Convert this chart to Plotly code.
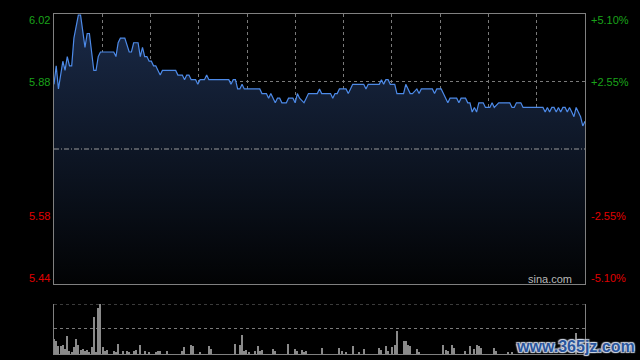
import plotly.graph_objects as go

# ---------------- data ----------------
prev_close = 5.73
price_min = [0, 1, 2, 4, 5, 6, 7, 8, 9, 11, 12, 13, 14, 15, 16, 17, 18, 19, 20, 21,
             27, 28, 29, 30, 32, 34, 35, 36, 38, 39, 40, 41, 42, 43, 44, 45, 46, 47, 48, 49,
             55, 56, 58, 59, 60, 61, 62, 64, 65, 66,
             68, 69, 70, 79, 80, 81, 82, 83, 84, 85, 86, 93, 94, 96, 97, 98, 100, 101, 102, 103,
             105, 106, 108, 109, 110, 111, 113, 114, 115, 119, 120, 121, 125, 126, 127, 128, 129,
             132, 133, 134, 135, 140, 141, 142, 147, 148, 149, 150, 151, 152, 154, 155, 156,
             158, 159, 160, 161, 162, 164, 165, 166, 171, 172, 173, 175, 176, 178, 179, 182, 183,
             184, 186, 187, 188, 189, 190, 191, 192, 194, 195, 197, 198, 199, 201, 206, 207, 208,
             209, 211, 212, 221, 222, 223, 224, 225, 226, 227, 228, 229, 230, 231, 232, 233, 234,
             235, 236, 237, 238, 239, 240]
price_val = [5.87, 5.91, 5.86, 5.92, 5.90, 5.93, 5.91, 5.91, 5.97, 6.02, 6.02, 5.98, 5.95, 5.98, 5.98, 5.94, 5.90, 5.90, 5.93, 5.94,
             5.94, 5.93, 5.96, 5.97, 5.97, 5.94, 5.94, 5.96, 5.96, 5.93, 5.95, 5.93, 5.93, 5.92, 5.92, 5.91, 5.91, 5.90, 5.89, 5.90,
             5.90, 5.89, 5.89, 5.88, 5.89, 5.89, 5.88, 5.88, 5.87, 5.88,
             5.88, 5.89, 5.88, 5.88, 5.87, 5.88, 5.88, 5.86, 5.86, 5.87, 5.86, 5.86, 5.85, 5.85, 5.84, 5.85, 5.83, 5.84, 5.84, 5.83,
             5.83, 5.84, 5.84, 5.83, 5.85, 5.84, 5.83, 5.84, 5.85, 5.85, 5.86, 5.85, 5.85, 5.84, 5.85, 5.85, 5.86,
             5.86, 5.85, 5.86, 5.87, 5.87, 5.86, 5.87, 5.87, 5.88, 5.87, 5.88, 5.88, 5.87, 5.87, 5.85, 5.85,
             5.85, 5.87, 5.86, 5.85, 5.85, 5.86, 5.85, 5.86, 5.86, 5.85, 5.86, 5.86, 5.85, 5.83, 5.84, 5.84, 5.83,
             5.84, 5.84, 5.83, 5.83, 5.81, 5.82, 5.81, 5.83, 5.83, 5.82, 5.82, 5.83, 5.82, 5.83, 5.83, 5.82, 5.82,
             5.83, 5.83, 5.82, 5.82, 5.81, 5.82, 5.81, 5.82, 5.82, 5.81, 5.82, 5.81, 5.82, 5.82, 5.81, 5.82, 5.81,
             5.80, 5.82, 5.81, 5.80, 5.78, 5.79]

vol_min = [0, 1, 2, 3, 4, 5, 6, 7, 8, 9, 10, 11, 12, 13, 14, 15, 16, 17, 18, 19, 20, 21, 22, 23, 24,
           27, 28, 29, 31, 33, 34, 36, 37, 39, 41, 43, 46, 47, 48, 51, 58, 59, 62, 63, 66, 70, 71,
           82, 84, 85, 86, 87, 88, 91, 92, 93, 94, 99, 100, 106, 109, 110, 112, 113, 114,
           121, 129, 130, 132, 135, 138, 140, 147, 148, 150, 151, 153, 154, 155, 158, 159, 160, 161,
           164, 165, 176, 177, 178, 180, 181, 186, 188, 190, 191, 192, 193, 199, 200, 205, 207, 236]
vol_val = [46, 40, 23, 23, 28, 16, 53, 8, 6, 20, 46, 28, 13, 15, 10, 13, 4, 20, 111, 5, 139, 150, 20, 8, 13,
           10, 5, 31, 10, 10, 5, 8, 13, 28, 8, 5, 5, 8, 10, 8, 10, 20, 28, 23, 5, 25, 16,
           31, 28, 58, 10, 13, 5, 8, 23, 8, 13, 16, 10, 31, 16, 10, 13, 5, 8,
           18, 18, 10, 5, 23, 5, 16, 18, 13, 23, 8, 20, 28, 68, 38, 38, 26, 23,
           16, 5, 28, 13, 8, 28, 18, 10, 25, 16, 28, 25, 18, 18, 8, 5, 5, 63]

y_ticks = [5.584, 5.876]
left_labels = ["6.02", "5.88", "5.58", "5.44"]
right_labels = ["+5.10%", "+2.55%", "-2.55%", "-5.10%"]
label_vals = [6.0222, 5.876, 5.584, 5.4378]
label_cols = ["#1aa31a", "#1aa31a", "#e00000", "#e00000"]
label_shift = [-6, 0, 0, 6]

y_lo, y_hi = 5.4378, 6.0222
n_min = 240
x_grid = [k * n_min / 11 for k in range(1, 11)]

# ---------------- figure ----------------
fig = go.Figure()
fig.add_trace(go.Scatter(
    x=price_min, y=price_val, mode="lines", xaxis="x", yaxis="y",
    line=dict(color="#4d8ae8", width=1.2),
    fill="tozeroy",
    fillgradient=dict(type="vertical", start=y_lo, stop=y_hi,
                      colorscale=[[0, "#020304"], [1, "#1a2a48"]]),
    hoverinfo="skip", showlegend=False))
fig.add_trace(go.Bar(
    x=vol_min, y=vol_val, xaxis="x2", yaxis="y2", width=0.5,
    marker=dict(color="#8a8a8a", line=dict(width=0)),
    hoverinfo="skip", showlegend=False))

grid_col = "#7a7a7a"
fig.update_layout(
    width=640, height=360,
    margin=dict(l=54, r=55, t=14, b=6),
    paper_bgcolor="#000", plot_bgcolor="#000",
    bargap=0,
    xaxis=dict(domain=[0, 1], range=[0, n_min], anchor="y",
               tickvals=x_grid, showticklabels=False, ticks="",
               showgrid=True, gridcolor=grid_col, griddash="dot", gridwidth=1,
               showline=True, mirror=True, linecolor="#808080", linewidth=1, zeroline=False),
    yaxis=dict(domain=[0.20588, 1], range=[y_lo, y_hi], anchor="x",
               tickvals=y_ticks, showticklabels=False, ticks="",
               showgrid=True, gridcolor=grid_col, griddash="dot", gridwidth=1,
               showline=True, mirror=True, linecolor="#808080", linewidth=1, zeroline=False),
    xaxis2=dict(domain=[0, 1], range=[0, n_min], anchor="y2",
                showticklabels=False, ticks="", showgrid=False,
                showline=True, linecolor="#808080", linewidth=1, zeroline=False),
    yaxis2=dict(domain=[0, 0.14706], range=[0, 150], anchor="x2",
                tickvals=[75], showticklabels=False, ticks="",
                showgrid=True, gridcolor=grid_col, griddash="dot", gridwidth=1,
                showline=True, mirror=True, linecolor="#808080", linewidth=1, zeroline=False),
    font=dict(family="Liberation Sans, Arial, sans-serif", size=11),
)

# prev-close line and volume top dotted line
fig.add_shape(type="line", xref="x domain", yref="y", x0=0, x1=1, y0=prev_close, y1=prev_close,
              line=dict(color="#9a9a9a", width=1, dash="5px,2px,1px,2px"))
fig.add_shape(type="line", xref="x2 domain", yref="y2", x0=0, x1=1, y0=150, y1=150,
              line=dict(color=grid_col, width=1, dash="dot"))

for txt_l, txt_r, v, c, s in zip(left_labels, right_labels, label_vals, label_cols, label_shift):
    fig.add_annotation(text=txt_l, xref="paper", yref="y", x=0, y=v, xanchor="right", yanchor="middle",
                       xshift=-2, yshift=s, showarrow=False, font=dict(color=c, size=11))
    fig.add_annotation(text=txt_r, xref="paper", yref="y", x=1, y=v, xanchor="left", yanchor="middle",
                       xshift=4, yshift=s, showarrow=False, font=dict(color=c, size=11))

fig.add_annotation(text="sina.com", xref="paper", yref="y", x=1, y=y_lo, xanchor="right", yanchor="middle",
                   xshift=-11, yshift=5, showarrow=False, font=dict(color="#b8b8b8", size=11))
fig.add_annotation(text="<b>www.365jz.com</b>", xref="paper", yref="paper", x=1, y=0,
                   xanchor="center", yanchor="middle", xshift=-10, yshift=8, showarrow=False,
                   font=dict(color="#2a559c", size=16,
                             shadow="1px 1px 1px #d0d8e6, -1px -1px 1px #d0d8e6, 1px -1px 1px #d0d8e6, -1px 1px 1px #d0d8e6"))

fig.write_html("out.html")
